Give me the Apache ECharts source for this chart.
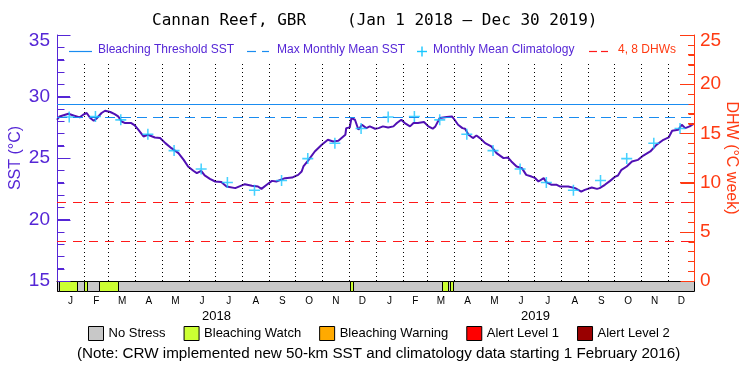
<!DOCTYPE html>
<html>
<head>
<meta charset="utf-8">
<script src="https://cdn.jsdelivr.net/npm/echarts@6/dist/echarts.min.js"></script>
<style>html,body{margin:0;padding:0;background:#fff;}#c{width:750px;height:375px;}</style>
</head>
<body>
<div id="c"></div>
<script>
// ---------- DATA ----------
// days since Jan 1 2018
const sstDay = [0,3,13,15,19,26,30,34,38,42,45,51,55,61,66,70,74,78,85,89,93,99,104,112,118,124,131,139,145,150,156,160,165,169,175,181,188,194,204,215,223,230,234,240,246,251,253,261,269,276,280,282,288,295,303,310,316,322,330,331,335,337,341,345,349,354,358,364,368,373,379,385,389,394,398,404,408,413,420,425,430,433,438,446,452,455,459,464,467,471,476,480,484,490,497,503,511,516,520,526,532,537,543,547,551,557,560,566,572,576,585,593,600,604,612,618,621,627,633,639,642,646,652,658,665,671,679,686,694,700,704,711,715,719,724,728];
const sstVal = [28.11,28.38,28.6,28.66,28.46,28.3,28.52,28.66,28.25,28.03,28.19,28.66,28.84,28.74,28.57,28.38,27.97,27.84,27.84,27.65,27.3,26.75,26.89,26.67,26.62,26.21,25.8,25.4,24.85,24.31,23.96,23.77,23.96,23.58,23.31,23.09,23.04,22.68,22.55,22.87,22.74,22.68,22.49,22.82,23.14,23.09,23.22,23.36,23.41,23.63,23.9,24.31,24.85,25.53,26.07,26.48,26.34,26.4,26.89,27.43,27.48,28.25,28.11,27.3,27.7,27.43,27.57,27.38,27.43,27.57,27.48,27.57,27.84,28.11,27.84,27.57,27.84,27.84,27.92,27.57,27.38,27.57,28.25,28.33,28.38,28.11,27.7,27.43,27.38,26.89,26.62,26.83,26.62,26.21,25.94,25.4,24.99,25.04,24.72,24.31,24.18,23.63,23.49,23.38,23.09,23.36,23.04,22.82,22.82,22.68,22.68,22.55,22.27,22.41,22.6,22.49,22.55,22.82,23.14,23.49,23.58,24.04,24.31,24.72,24.85,25.2,25.53,26.07,26.48,26.67,27.21,27.3,27.7,27.43,27.57,27.76];

const climDay = [14,44,73,104,134,165,195,226,257,287,318,348,379,409,438,469,499,530,560,591,622,652,683,713];
const climVal = [28.33,28.38,28.1,26.93,25.6,24.1,23.0,22.37,23.17,24.95,26.2,27.4];

const bleachThreshold = 29.33;
const maxMonthlyMean = 28.33;
const dhwLevels = [4, 8];

const monthStart = [0,31,59,90,120,151,181,212,243,273,304,334,365,396,424,455,485,516,546,577,608,638,669,699,730];
const monthLetters = ['J','F','M','A','M','J','J','A','S','O','N','D','J','F','M','A','M','J','J','A','S','O','N','D'];
const yearLabels = ['2018','2019'];
const yearMid = [182.5, 547.5];

// tick positions on the two value axes
const sstTicks = [15,16,17,18,19,20,21,22,23,24,25,26,27,28,29,30,31,32,33,34,35];
const dhwTicks = [0,1,2,3,4,5,6,7,8,9,10,11,12,13,14,15,16,17,18,19,20,21,22,23,24,25];

const levelNames = ['No Stress','Bleaching Watch','Bleaching Warning','Alert Level 1','Alert Level 2'];
const levelColors = ['#c8c8c8','#ccff33','#ffaa00','#ff0000','#990000'];
const alertStart = [0,2,23,31,34,48,70,335,339,441,448,450,453];
const alertEnd   = [2,23,31,34,48,70,335,339,441,448,450,453,729];
const alertLevel = [0,1,0,1,0,1,0,1,0,1,0,1,0];

// ---------- STYLE ----------
const FONT = 'Liberation Sans';
const PURPLE = '#5526d6';
const LINE_PURPLE = '#5010b4';
const ORANGE = '#ff3a12';
const BLUE = '#1a8cf0';
const CYAN = '#18c6ff';
const RED = '#ff1a1a';
const X_MIN = 0, X_MAX = 729;

const monthMid = [];
for (let i = 0; i < 24; i++) monthMid.push((monthStart[i] + monthStart[i+1]) / 2);

const sstData = sstDay.map((d, i) => [d, sstVal[i]]);
const climData = climDay.map((d, i) => [d, climVal[i % 12]]);
const monthLines = monthStart.slice(1, 24).map(d => [{coord: [d, 15]}, {coord: [d, 32.8]}]);

function renderStrip(params, api) {
  const p0 = api.coord([api.value(0), 1]);
  const p1 = api.coord([api.value(1), 0]);
  return {
    type: 'rect',
    shape: {x: Math.round(p0[0]) + 0.5, y: Math.round(p0[1]) + 0.5, width: Math.round(p1[0]) - Math.round(p0[0]), height: Math.round(p1[1]) - Math.round(p0[1])},
    style: {fill: api.visual('color'), stroke: '#000', lineWidth: 1}
  };
}

function tickRenderer(color, side, major, minor, majorEvery) {
  return function (params, api) {
    const v = api.value(1);
    const p = api.coord([api.value(0), v]);
    const len = (v % majorEvery === 0) ? major : minor;
    const y = Math.round(p[1]) + 0.5;
    const x = Math.round(p[0]) + 0.5;
    return {type: 'line', shape: {x1: x, y1: y, x2: x + side * len, y2: y},
            style: {stroke: color, lineWidth: 1}};
  };
}

const stripSeries = levelNames.map((name, li) => ({
  name: name,
  type: 'custom',
  xAxisIndex: 1,
  yAxisIndex: 2,
  itemStyle: {color: levelColors[li]},
  renderItem: renderStrip,
  encode: {x: [0, 1]},
  data: alertStart.map((s, i) => [s, alertEnd[i], alertLevel[i]]).filter(r => r[2] === li),
  silent: true,
  z: 3
}));

const chart = echarts.init(document.getElementById('c'), null, {renderer: 'canvas'});

const option = {
  animation: false,
  backgroundColor: '#fff',
  title: [
    {text: 'Cannan Reef, GBR', left: 152, top: 13, padding: 0,
     textStyle: {fontFamily: 'DejaVu Sans Mono', fontSize: 16, fontWeight: 'normal', color: '#000'}},
    {text: '(Jan 1 2018 \u2014 Dec 30 2019)', left: 347, top: 13, padding: 0,
     textStyle: {fontFamily: 'DejaVu Sans Mono', fontSize: 16, fontWeight: 'normal', color: '#000'}},
    {text: '(Note: CRW implemented new 50-km SST and climatology data starting 1 February 2016)', left: 77, top: 346, padding: 0,
     textStyle: {fontFamily: FONT, fontSize: 15.2, fontWeight: 'normal', color: '#000'}}
  ],
  legend: {
    data: levelNames,
    left: 88, top: 326, padding: 0,
    itemWidth: 15, itemHeight: 14, itemGap: 18,
    icon: 'rect',
    itemStyle: {borderColor: '#000', borderWidth: 1},
    textStyle: {fontFamily: FONT, fontSize: 13, color: '#000'},
    selectedMode: false
  },
  grid: [
    {left: 57, right: 56, top: 35, height: 246, outerBoundsMode: 'none'},
    {left: 57, right: 56, top: 281, height: 10, outerBoundsMode: 'none'}
  ],
  xAxis: [
    {gridIndex: 0, type: 'value', min: X_MIN, max: X_MAX, position: 'top',
     axisLine: {show: true, lineStyle: {color: '#000', width: 1}},
     axisTick: {show: false}, axisLabel: {show: false}, splitLine: {show: false}},
    {gridIndex: 1, type: 'value', min: X_MIN, max: X_MAX, position: 'bottom',
     axisLine: {show: false}, axisTick: {show: false}, splitLine: {show: false},
     axisLabel: {customValues: monthMid, margin: 5, fontFamily: FONT, fontSize: 10, color: '#000',
       formatter: v => monthLetters[monthMid.indexOf(v)] || ''}},
    {gridIndex: 1, type: 'value', min: X_MIN, max: X_MAX, position: 'bottom',
     axisLine: {show: false}, axisTick: {show: false}, splitLine: {show: false},
     axisLabel: {customValues: yearMid, margin: 19, fontFamily: FONT, fontSize: 13, color: '#000',
       formatter: v => yearLabels[yearMid.indexOf(v)] || ''}}
  ],
  yAxis: [
    {gridIndex: 0, type: 'value', min: 15, max: 35, interval: 5, position: 'left',
     axisLine: {show: true, lineStyle: {color: PURPLE, width: 1}},
     axisTick: {show: true, inside: true, length: 13, lineStyle: {color: PURPLE, width: 1}},
     minorTick: {show: true, splitNumber: 5, length: 7, lineStyle: {color: PURPLE, width: 1}},
     splitLine: {show: false},
     axisLabel: {color: PURPLE, fontFamily: FONT, fontSize: 19, margin: 7,
       formatter: v => v === 35 ? '{t|35}' : String(v),
       rich: {t: {padding: [11, 0, 0, 0], color: PURPLE, fontFamily: FONT, fontSize: 19}}},
     name: 'SST (\u00b0C)', nameLocation: 'middle', nameGap: 33, nameMoveOverlap: false,
     nameTextStyle: {color: PURPLE, fontFamily: FONT, fontSize: 16}},
    {gridIndex: 0, type: 'value', min: 0, max: 25, interval: 5, position: 'right',
     axisLine: {show: true, lineStyle: {color: ORANGE, width: 1}},
     axisTick: {show: true, inside: true, length: 14, lineStyle: {color: ORANGE, width: 1}},
     minorTick: {show: true, splitNumber: 5, length: 6, lineStyle: {color: ORANGE, width: 1}},
     splitLine: {show: false},
     axisLabel: {color: ORANGE, fontFamily: FONT, fontSize: 19, margin: 6,
       formatter: v => v === 25 ? '{t|25}' : String(v),
       rich: {t: {padding: [11, 0, 0, 0], color: ORANGE, fontFamily: FONT, fontSize: 19}}},
     name: 'DHW (\u00b0C week)', nameLocation: 'middle', nameGap: 29, nameRotate: -90, nameMoveOverlap: false,
     nameTextStyle: {color: ORANGE, fontFamily: FONT, fontSize: 16}},
    {gridIndex: 1, type: 'value', min: 0, max: 1, position: 'left',
     axisLine: {show: true, lineStyle: {color: PURPLE}}, axisTick: {show: false}, axisLabel: {show: false}, splitLine: {show: false}},
    {gridIndex: 1, type: 'value', min: 0, max: 1, position: 'right',
     axisLine: {show: true, lineStyle: {color: ORANGE}}, axisTick: {show: false}, axisLabel: {show: false}, splitLine: {show: false}}
  ],
  series: [
    {type: 'line', xAxisIndex: 0, yAxisIndex: 0, data: [], silent: true, z: 1,
     markLine: {silent: true, symbol: ['none', 'none'], label: {show: false}, animation: false,
       data: monthLines.map(l => [Object.assign({lineStyle: {color: '#000', type: [1, 3], width: 1}}, l[0]), l[1]])
         .concat([
           {yAxis: bleachThreshold, lineStyle: {color: BLUE, type: 'solid', width: 1.2}},
           {yAxis: maxMonthlyMean, lineStyle: {color: BLUE, type: [10, 6], width: 1.2}}
         ])}},
    {type: 'line', xAxisIndex: 0, yAxisIndex: 1, data: [], silent: true, z: 1,
     markLine: {silent: true, symbol: ['none', 'none'], label: {show: false}, animation: false,
       data: dhwLevels.map(v => ({yAxis: v, lineStyle: {color: RED, type: [9, 7], width: 1.2}}))}},
    {name: 'SST', type: 'line', xAxisIndex: 0, yAxisIndex: 0, data: sstData, showSymbol: false,
     lineStyle: {color: LINE_PURPLE, width: 2}, itemStyle: {color: LINE_PURPLE}, z: 3, silent: true},
    {name: 'Monthly Mean Climatology', type: 'scatter', xAxisIndex: 0, yAxisIndex: 0, data: climData,
     symbol: 'path://M4.3,0h1.4v10h-1.4z M0,4.3h10v1.4h-10z', symbolSize: 11,
     itemStyle: {color: CYAN}, z: 4, silent: true},
    {type: 'custom', xAxisIndex: 0, yAxisIndex: 0, silent: true, z: 6, clip: false,
     encode: {x: 0, y: 1},
     data: sstTicks.map(v => [X_MIN, v]),
     renderItem: tickRenderer(PURPLE, 1, 13, 7, 5)},
    {type: 'custom', xAxisIndex: 0, yAxisIndex: 1, silent: true, z: 6, clip: false,
     encode: {x: 0, y: 1},
     data: dhwTicks.map(v => [X_MAX, v]),
     renderItem: tickRenderer(ORANGE, -1, 14, 6, 5)}
  ].concat(stripSeries),
  graphic: [
    {type: 'line', shape: {x1: 69, y1: 51.5, x2: 92, y2: 51.5}, style: {stroke: BLUE, lineWidth: 1.2}},
    {type: 'text', left: 98, top: 44, style: {text: 'Bleaching Threshold SST', fill: PURPLE, font: '12px "Liberation Sans"'}},
    {type: 'line', shape: {x1: 247, y1: 51.5, x2: 256, y2: 51.5}, style: {stroke: BLUE, lineWidth: 1.2}},
    {type: 'line', shape: {x1: 262, y1: 51.5, x2: 269, y2: 51.5}, style: {stroke: BLUE, lineWidth: 1.2}},
    {type: 'text', left: 277, top: 44, style: {text: 'Max Monthly Mean SST', fill: PURPLE, font: '12px "Liberation Sans"'}},
    {type: 'line', shape: {x1: 417, y1: 51.5, x2: 427, y2: 51.5}, style: {stroke: CYAN, lineWidth: 1.4}},
    {type: 'line', shape: {x1: 422, y1: 46.5, x2: 422, y2: 56.5}, style: {stroke: CYAN, lineWidth: 1.4}},
    {type: 'text', left: 433, top: 44, style: {text: 'Monthly Mean Climatology', fill: PURPLE, font: '12px "Liberation Sans"'}},
    {type: 'line', shape: {x1: 589, y1: 51.5, x2: 597, y2: 51.5}, style: {stroke: RED, lineWidth: 1.2}},
    {type: 'line', shape: {x1: 601, y1: 51.5, x2: 608, y2: 51.5}, style: {stroke: RED, lineWidth: 1.2}},
    {type: 'text', left: 618, top: 44, style: {text: '4, 8 DHWs', fill: ORANGE, font: '12px "Liberation Sans"'}}
  ]
};
chart.setOption(option);
</script>
</body>
</html>
